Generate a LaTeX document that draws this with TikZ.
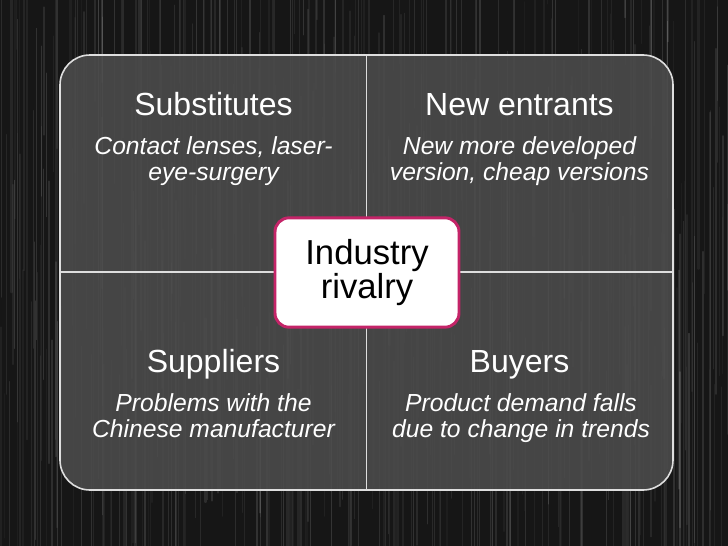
\documentclass[tikz,border=0pt]{standalone}
\usepackage{fontspec}
\setmainfont{Liberation Sans}
\usetikzlibrary{positioning}
\definecolor{panelgray}{RGB}{76,76,76}
\definecolor{bgdark}{RGB}{22,22,22}
\definecolor{rivalrypink}{RGB}{196,36,104}
\definecolor{linewhite}{RGB}{222,222,222}

\begin{document}
\begin{tikzpicture}[x=0.75pt, y=-0.75pt,
        force/.style={text=white, font=\fontsize{24}{28}\selectfont, anchor=base},
        detail/.style={text=white, font=\fontsize{18.5}{19.5}\selectfont\itshape, align=center, anchor=base},
        rivalry/.style={rectangle, draw=rivalrypink, line width=2.2pt, rounded corners=10.5pt, fill=white, align=center, font=\fontsize{26}{25.5}\selectfont, minimum width=138pt, minimum height=82pt, inner sep=0pt},
        divider/.style={draw=linewhite, line width=1.2pt},
        grain/.style={white, line cap=round}
        ]

        % Background
        \useasboundingbox (0,0) rectangle (728,546);
        \clip (0,0) rectangle (728,546);
        \fill[bgdark] (0,0) rectangle (728,546);
        \pgfmathsetseed{11}
        \foreach \i in {1,...,420} {
            \pgfmathsetmacro\gx{rnd*728}
            \pgfmathsetmacro\gy{rnd*546-150}
            \pgfmathsetmacro\gl{\gy+100+rnd*450}
            \pgfmathsetmacro\go{0.03+rnd*0.10}
            \pgfmathsetmacro\gw{0.3+rnd*1.4}
            \draw[grain, opacity=\go, line width=\gw pt] (\gx,\gy) -- (\gx,\gl);
        }

        % Panel
        \coordinate (panelNW) at (60,55);
        \coordinate (panelSE) at (673,490);
        \coordinate (midN) at (366.5,55);
        \coordinate (midS) at (366.5,490);
        \coordinate (midW) at (60,272);
        \coordinate (midE) at (673,272);
        \fill[panelgray, opacity=0.88, rounded corners=22.5pt] (panelNW) rectangle (panelSE);
        \draw[divider] (midN) -- (midS);
        \draw[divider] (midW) -- (midE);
        \draw[divider, rounded corners=22.5pt] (panelNW) rectangle (panelSE);

        % Nodes
        \node (subst) [force] at (213.5,115) {Substitutes};
        \node (subst-detail) [detail] at (213.5,180) {Contact lenses, laser-\\eye-surgery};
        \node (entrants) [force] at (519.5,115) {New entrants};
        \node (entrants-detail) [detail] at (519.5,180) {New more developed\\version, cheap versions};
        \node (suppliers) [force] at (213.5,372) {Suppliers};
        \node (suppliers-detail) [detail] at (213.5,437) {Problems with the\\Chinese manufacturer};
        \node (buyers) [force] at (519.5,372) {Buyers};
        \node (buyers-detail) [detail] at (521,437) {Product demand falls\\due to change in trends};
        \node (rivalry) [rivalry] at (367,272.5) {Industry\\rivalry};

    \end{tikzpicture}
\end{document}
